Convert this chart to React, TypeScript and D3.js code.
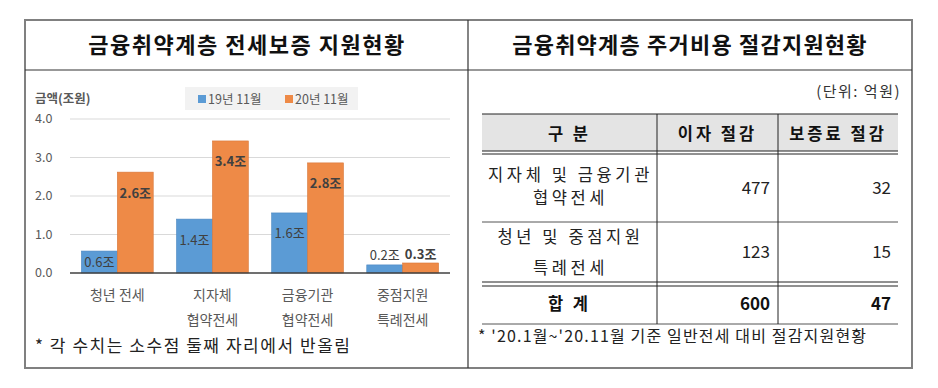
import React from 'react'
import * as d3 from 'd3'

// chart data
const categories = ['청년 전세', '지자체 협약전세', '금융기관 협약전세', '중점지원 특례전세']
const categoryLines = [['청년 전세'], ['지자체', '협약전세'], ['금융기관', '협약전세'], ['중점지원', '특례전세']]
const seriesNames = ['19년 11월', '20년 11월']
const nov19 = [0.57, 1.4, 1.56, 0.21]
const nov20 = [2.62, 3.43, 2.86, 0.26]
const nov19Labels = ['0.6조', '1.4조', '1.6조', '0.2조']
const nov20Labels = ['2.6조', '3.4조', '2.8조', '0.3조']
const yTicks = [0, 1, 2, 3, 4]

// table data
const tableHeader = ['구 분', '이자 절감', '보증료 절감']
const rowNames = [['지자체 및 금융기관', '협약전세'], ['청년 및 중점지원', '특례전세']]
const interestSaving = [477, 123]
const feeSaving = [32, 15]
const totalLabel = '합 계'
const totals = [600, 47]

const colors = ['#5B9BD5', '#EE8A47']
const strokes = ['#4A87C0', '#D8773A']
const font = '"Noto Sans CJK KR", "Noto Sans", sans-serif'

export default function App() {
  const x = d3.scaleBand<string>().domain(categories).range([70, 450]).paddingInner(0.245).paddingOuter(0.12)
  const xs = d3.scaleBand<string>().domain(seriesNames).range([0, x.bandwidth()])
  const y = d3.scaleLinear().domain([0, 4]).range([273, 119])
  const series = [nov19, nov20]
  const labels = [nov19Labels, nov20Labels]

  const labelY = (v: number) => {
    const top = y(v)
    const h = y(0) - top
    if (h >= 42) return top + 21
    if (h >= 18) return (top + y(0)) / 2
    return top - 9
  }

  // table geometry
  const cols = [482, 657, 778, 898]
  const rowTop = [154, 222]
  const rowBottom = [222, 282]
  const nameY = [[175, 198], [237, 268]]

  return (
    <div style={{ position: 'absolute', left: 0, top: 0 }}>
      <svg width={938} height={388} style={{ display: 'block', fontFamily: font }}>
        <rect width={938} height={388} fill="#fff" />
        {/* frame */}
        <rect x={25} y={20} width={887} height={348} fill="none" stroke="#808080" strokeWidth={2} />
        <line x1={468} x2={468} y1={20} y2={368} stroke="#333" strokeWidth={1.2} />
        <line x1={25} x2={912} y1={70} y2={70} stroke="#333" strokeWidth={1.2} />
        <text x={247} y={53} textAnchor="middle" fontSize={22} fontWeight="bold" fill="#111" letterSpacing={1.5}>
          금융취약계층 전세보증 지원현황
        </text>
        <text x={690} y={53} textAnchor="middle" fontSize={22} fontWeight="bold" fill="#111" letterSpacing={1.2}>
          금융취약계층 주거비용 절감지원현황
        </text>

        {/* bar chart */}
        <text x={35} y={103} fontSize={12.5} fontWeight="bold" fill="#595959">금액(조원)</text>
        <rect x={185} y={87} width={173} height={23} fill="#F2F2F2" />
        {seriesNames.map((s, i) => (
          <g key={s} transform={`translate(${i === 0 ? 198 : 285},99)`}>
            <rect x={0} y={-4} width={8} height={8} fill={colors[i]} />
            <text x={10} y={4.5} fontSize={12.5} fill="#595959">{s}</text>
          </g>
        ))}
        {yTicks.map(t => (
          <g key={t}>
            {t > 0 && <line x1={70} x2={450} y1={y(t)} y2={y(t)} stroke="#D9D9D9" strokeWidth={1} />}
            <text x={35} y={y(t)} dy="0.35em" fontSize={12.5} fill="#595959">{t.toFixed(1)}</text>
          </g>
        ))}
        {categories.map((c, ci) => (
          <g key={c} transform={`translate(${x(c)},0)`}>
            {series.map((vals, si) => (
              <rect key={si} x={xs(seriesNames[si])} y={y(vals[ci])} width={xs.bandwidth()}
                height={y(0) - y(vals[ci])} fill={colors[si]} stroke={strokes[si]} strokeWidth={0.6} />
            ))}
            {series.map((vals, si) => (
              <text key={'l' + si} x={(xs(seriesNames[si]) as number) + xs.bandwidth() / 2} y={labelY(vals[ci])}
                dy="0.35em" textAnchor="middle" fontSize={13} fill="#404040" fontWeight={si === 1 ? 'bold' : 'normal'}>
                {labels[si][ci]}
              </text>
            ))}
            {categoryLines[ci].map((l, li) => (
              <text key={l} x={x.bandwidth() / 2} y={295 + li * 25} dy="0.35em" textAnchor="middle" fontSize={14} fill="#595959">
                {l}
              </text>
            ))}
          </g>
        ))}
        <line x1={70} x2={450} y1={y(0)} y2={y(0)} stroke="#404040" strokeWidth={1.6} />
        <text x={35} y={346} dy="0.35em" fontSize={17} fill="#222" textLength={315} lengthAdjust="spacing">
          * 각 수치는 소수점 둘째 자리에서 반올림
        </text>

        {/* table */}
        <text x={901} y={92} dy="0.35em" textAnchor="end" fontSize={15} fill="#333" letterSpacing={1.5}>(단위: 억원)</text>
        <rect x={cols[0]} y={114} width={cols[3] - cols[0]} height={37} fill="#E4E4E4" />
        <line x1={cols[0]} x2={cols[3]} y1={114} y2={114} stroke="#222" strokeWidth={1} />
        <line x1={cols[0]} x2={cols[3]} y1={151} y2={151} stroke="#222" strokeWidth={1} />
        <line x1={cols[0]} x2={cols[3]} y1={154} y2={154} stroke="#222" strokeWidth={1} />
        <line x1={cols[0]} x2={cols[3]} y1={222} y2={222} stroke="#555" strokeWidth={1} />
        <line x1={cols[0]} x2={cols[3]} y1={282} y2={282} stroke="#222" strokeWidth={1} />
        <line x1={cols[0]} x2={cols[3]} y1={286} y2={286} stroke="#222" strokeWidth={1} />
        <line x1={cols[0]} x2={cols[3]} y1={324} y2={324} stroke="#555" strokeWidth={1} />
        {[cols[1], cols[2]].map(cx => (
          <line key={cx} x1={cx} x2={cx} y1={114} y2={324} stroke="#222" strokeWidth={1} />
        ))}
        {tableHeader.map((h, i) => (
          <text key={h} x={(cols[i] + cols[i + 1]) / 2} y={134} dy="0.35em" textAnchor="middle" fontSize={16.5}
            fontWeight="bold" fill="#111" letterSpacing={3}>{h}</text>
        ))}
        {rowNames.map((r, ri) => {
          const mid = (rowTop[ri] + rowBottom[ri]) / 2
          return (
            <g key={ri}>
              {r.map((l, li) => (
                <text key={l} x={(cols[0] + cols[1]) / 2 + 1} y={nameY[ri][li]} dy="0.35em"
                  textAnchor="middle" fontSize={16.5} fill="#222" letterSpacing={3.6}>{l}</text>
              ))}
              <text x={770} y={mid} dy="0.35em" textAnchor="end" fontSize={17} fill="#222">{interestSaving[ri]}</text>
              <text x={891} y={mid} dy="0.35em" textAnchor="end" fontSize={17} fill="#222">{feeSaving[ri]}</text>
            </g>
          )
        })}
        <text x={(cols[0] + cols[1]) / 2} y={304} dy="0.35em" textAnchor="middle" fontSize={16.5} fontWeight="bold" fill="#111" letterSpacing={3}>
          {totalLabel}
        </text>
        <text x={770} y={304} dy="0.35em" textAnchor="end" fontSize={17} fontWeight="bold" fill="#111">{totals[0]}</text>
        <text x={891} y={304} dy="0.35em" textAnchor="end" fontSize={17} fontWeight="bold" fill="#111">{totals[1]}</text>
        <text x={478} y={336} dy="0.35em" fontSize={16} fill="#222" textLength={388} lengthAdjust="spacing">
          * '20.1월~'20.11월 기준 일반전세 대비 절감지원현황
        </text>
      </svg>
    </div>
  )
}
